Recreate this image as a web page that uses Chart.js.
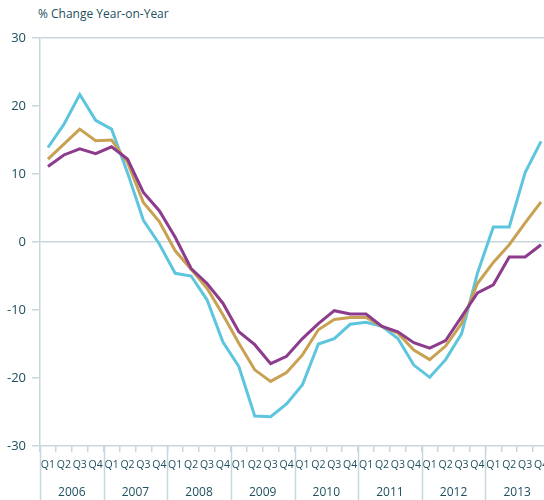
<!DOCTYPE html>
<html>
<head>
<meta charset="utf-8">
<script src="https://cdn.jsdelivr.net/npm/chart.js@4.4.1/dist/chart.umd.min.js"></script>
<style>
  html, body { margin: 0; padding: 0; background: #fff; overflow: hidden; }
  #wrap { position: relative; width: 549px; height: 500px; overflow: hidden; }
  #title { position: absolute; left: 38px; top: 5px; font: 12px "Open Sans", sans-serif; color: #1d4f5e; }
  #chart { position: absolute; left: 0; top: 0; width: 549px; height: 500px; }
</style>
</head>
<body>
<div id="wrap">
  <div id="title">% Change Year-on-Year</div>
  <canvas id="chart" width="549" height="500"></canvas>
</div>
<script>
// quarter labels (x axis) and year labels (second x axis)
var quarters = [
  "Q1", "Q2", "Q3", "Q4", "Q1", "Q2", "Q3", "Q4",
  "Q1", "Q2", "Q3", "Q4", "Q1", "Q2", "Q3", "Q4",
  "Q1", "Q2", "Q3", "Q4", "Q1", "Q2", "Q3", "Q4",
  "Q1", "Q2", "Q3", "Q4", "Q1", "Q2", "Q3", "Q4"
];
var years = ["2006", "2007", "2008", "2009", "2010", "2011", "2012", "2013"];
var yTicks = [-30, -20, -10, 0, 10, 20, 30];

// series values, % change year-on-year
var blueSeries = [
  13.9, 17.3, 21.7, 17.9, 16.6, 10.2, 3.2, -0.3,
  -4.6, -5.0, -8.5, -14.7, -18.3, -25.6, -25.7, -23.8,
  -21.0, -15.0, -14.2, -12.1, -11.8, -12.4, -14.2, -18.1,
  -19.9, -17.3, -13.5, -4.6, 2.2, 2.2, 10.2, 14.8
];
var goldSeries = [
  12.2, 14.4, 16.6, 14.9, 15.0, 11.7, 5.8, 3.0,
  -1.3, -4.0, -6.8, -10.7, -14.9, -18.8, -20.5, -19.2,
  -16.6, -12.9, -11.4, -11.1, -11.1, -12.4, -13.4, -15.9,
  -17.3, -15.3, -12.0, -6.1, -3.0, -0.4, 2.8, 5.9
];
var purpleSeries = [
  11.1, 12.8, 13.7, 13.0, 14.0, 12.2, 7.3, 4.6,
  0.7, -3.9, -6.1, -9.0, -13.2, -15.1, -17.9, -16.8,
  -14.2, -12.0, -10.1, -10.6, -10.6, -12.4, -13.2, -14.8,
  -15.6, -14.5, -11.0, -7.5, -6.3, -2.2, -2.2, -0.4
];

var lineColor = "#c8d7dd";
var textColor = "#1d4f5e";
var fontFamily = "'Open Sans', sans-serif";

// vertical dividers between the years, from the x axis line down to the bottom
var yearDividers = {
  id: "yearDividers",
  afterDraw: function (chart) {
    var x = chart.scales.x;
    var c = chart.ctx;
    c.save();
    c.strokeStyle = lineColor;
    c.lineWidth = 1.5;
    for (var i = 0; i <= years.length; i++) {
      var px = Math.round(x.getPixelForValue(i * 4 - 0.5)) + 0.5;
      c.beginPath();
      c.moveTo(px, x.top);
      c.lineTo(px, chart.height);
      c.stroke();
    }
    c.restore();
  }
};

var ctx = document.getElementById("chart").getContext("2d");
new Chart(ctx, {
  type: "line",
  data: {
    labels: quarters,
    datasets: [
      { label: "purple", data: purpleSeries, borderColor: "#8c3b8d" },
      { label: "gold", data: goldSeries, borderColor: "#c9a152" },
      { label: "blue", data: blueSeries, borderColor: "#5ec5de" }
    ]
  },
  plugins: [yearDividers],
  options: {
    responsive: false,
    animation: false,
    layout: { padding: { top: 38, left: 0, right: 0, bottom: 0 } },
    plugins: {
      legend: { display: false },
      tooltip: { enabled: false }
    },
    elements: {
      point: { radius: 0 },
      line: { borderWidth: 3, tension: 0, fill: false }
    },
    scales: {
      x: {
        offset: true,
        afterFit: function (scale) { scale.height = 26; scale.paddingLeft = 0; scale.paddingRight = 0; },
        border: { color: lineColor, width: 1.5 },
        grid: {
          offset: true,
          drawOnChartArea: false,
          color: lineColor,
          lineWidth: 1.5,
          tickLength: 6
        },
        ticks: {
          color: textColor,
          font: { family: fontFamily, size: 10.5 },
          padding: 7,
          maxRotation: 0,
          autoSkip: false
        }
      },
      x2: {
        type: "category",
        labels: years,
        position: "bottom",
        offset: true,
        afterFit: function (scale) { scale.height = 28; scale.paddingLeft = 0; scale.paddingRight = 0; },
        border: { display: false },
        grid: { display: false, drawTicks: false },
        ticks: {
          color: textColor,
          font: { family: fontFamily, size: 12 },
          padding: 13,
          maxRotation: 0,
          autoSkip: false
        }
      },
      y: {
        min: -30,
        max: 30,
        afterFit: function (scale) { scale.width = 40; },
        afterBuildTicks: function (scale) {
          scale.ticks = yTicks.map(function (v) { return { value: v }; });
        },
        border: { color: lineColor, width: 1.5 },
        grid: {
          color: function (c) {
            return (c.tick && (c.tick.value === 0 || c.tick.value === 30)) ? lineColor : "rgba(0,0,0,0)";
          },
          tickColor: lineColor,
          lineWidth: 1.5,
          tickLength: 8
        },
        ticks: {
          color: textColor,
          font: { family: fontFamily, size: 13 },
          padding: 6
        }
      }
    }
  }
});
</script>
</body>
</html>
